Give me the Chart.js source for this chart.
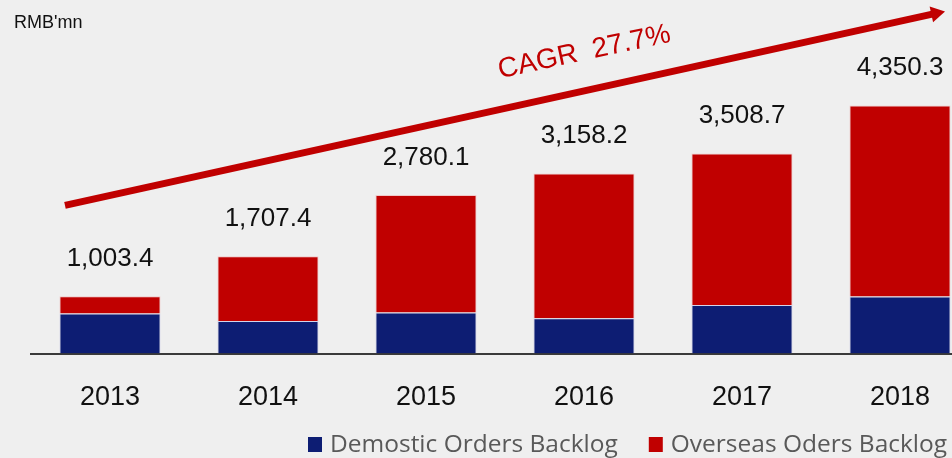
<!DOCTYPE html>
<html>
<head>
<meta charset="utf-8">
<script src="https://cdn.jsdelivr.net/npm/chart.js@4.4.1/dist/chart.umd.min.js"></script>
<style>
  html, body { margin: 0; padding: 0; background: #efefef; overflow: hidden; }
  #wrap { width: 952px; height: 458px; overflow: hidden; position: relative; background: #efefef; }
  canvas { display: block; }
</style>
</head>
<body>
<div id="wrap"><canvas id="c" width="979" height="458" style="width:979px;height:458px"></canvas></div>
<script>
// ---- Data ----
const categories = ['2013', '2014', '2015', '2016', '2017', '2018'];
const domesticOrders = [702.0, 571.0, 720.0, 620.0, 852.0, 1001.0];
const overseasOrders = [301.4, 1136.4, 2060.1, 2538.2, 2656.7, 3349.3];
const seriesNames = ['Demostic Orders Backlog', 'Overseas Oders Backlog'];
const unitLabel = "RMB'mn";
const cagrLabel = 'CAGR  27.7%';

const NAVY = '#0d1d73';
const RED = '#c00000';

const fmt = v => v.toLocaleString('en-US', { minimumFractionDigits: 1, maximumFractionDigits: 1 });

const decorPlugin = {
  id: 'decor',
  beforeDraw(chart) {
    const ctx = chart.ctx;
    ctx.save();
    ctx.fillStyle = '#efefef';
    ctx.fillRect(0, 0, chart.width, chart.height);
    ctx.restore();
  },
  afterDraw(chart) {
    const ctx = chart.ctx;
    const xs = chart.scales.x, ys = chart.scales.y;
    ctx.save();
    // totals above bars
    ctx.font = '26px "Liberation Sans", Arial, sans-serif';
    ctx.fillStyle = '#111';
    ctx.textAlign = 'center';
    ctx.textBaseline = 'alphabetic';
    categories.forEach((c, i) => {
      const total = domesticOrders[i] + overseasOrders[i];
      ctx.fillText(fmt(total), xs.getPixelForValue(i), ys.getPixelForValue(total) - 30);
    });
    // unit label
    ctx.font = '18px "Liberation Sans", Arial, sans-serif';
    ctx.textAlign = 'left';
    ctx.fillText(unitLabel, 14, 28);

    // CAGR arrow (anchored to scales)
    const x0 = xs.getPixelForValue(-0.285), y0 = ys.getPixelForValue(2600);
    const x1 = xs.getPixelForValue(5.285), y1 = ys.getPixelForValue(6000);
    const ang = Math.atan2(y1 - y0, x1 - x0);
    const headLen = 14, headW = 8;
    const bx = x1 - headLen * Math.cos(ang), by = y1 - headLen * Math.sin(ang);
    ctx.strokeStyle = RED;
    ctx.fillStyle = RED;
    ctx.lineWidth = 7;
    ctx.lineCap = 'butt';
    ctx.beginPath();
    ctx.moveTo(x0, y0);
    ctx.lineTo(bx + 1 * Math.cos(ang), by + 1 * Math.sin(ang));
    ctx.stroke();
    ctx.beginPath();
    ctx.moveTo(x1, y1);
    ctx.lineTo(bx - headW * Math.sin(ang), by + headW * Math.cos(ang));
    ctx.lineTo(bx + headW * Math.sin(ang), by - headW * Math.cos(ang));
    ctx.closePath();
    ctx.fill();

    // CAGR text
    const tx = xs.getPixelForValue(2.468), ty = ys.getPixelForValue(4830);
    ctx.translate(tx, ty);
    ctx.rotate(-0.21);
    ctx.font = '28px "Liberation Sans", Arial, sans-serif';
    ctx.fillStyle = RED;
    ctx.textAlign = 'left';
    ctx.fillText(cagrLabel, 0, 0);
    ctx.restore();

    // legend
    ctx.save();
    ctx.font = '24.5px "Open Sans", "Noto Sans", sans-serif';
    ctx.textBaseline = 'alphabetic';
    ctx.textAlign = 'left';
    const colors = [NAVY, RED];
    let x = 308;
    const baseY = 452;
    seriesNames.forEach((name, i) => {
      ctx.fillStyle = colors[i];
      ctx.fillRect(x, 437, 14, 15);
      ctx.fillStyle = '#595959';
      ctx.fillText(name, x + 22, baseY);
      x = x + 22 + ctx.measureText(name).width + 31;
    });
    ctx.restore();
  }
};

new Chart(document.getElementById('c'), {
  type: 'bar',
  data: {
    labels: categories,
    datasets: [
      { label: seriesNames[0], data: domesticOrders, backgroundColor: NAVY,
        borderColor: 'rgba(190,190,230,0.55)', borderWidth: 1, borderSkipped: 'bottom' },
      { label: seriesNames[1], data: overseasOrders, backgroundColor: RED,
        borderColor: 'rgba(240,170,170,0.55)', borderWidth: 1, borderSkipped: 'bottom' }
    ]
  },
  options: {
    responsive: false,
    animation: false,
    layout: { padding: { left: 31, right: 0, top: 0, bottom: 16 } },
    datasets: { bar: { categoryPercentage: 1.0, barPercentage: 0.64 } },
    plugins: { legend: { display: false }, tooltip: { enabled: false } },
    scales: {
      x: {
        stacked: true,
        grid: { display: false, drawTicks: false },
        border: { display: true, color: '#3a3a3a', width: 2 },
        ticks: { color: '#111', padding: 28, font: { family: '"Liberation Sans", Arial, sans-serif', size: 27 } }
      },
      y: {
        stacked: true,
        display: false,
        min: 0,
        max: 6200
      }
    }
  },
  plugins: [decorPlugin]
});
</script>
</body>
</html>
